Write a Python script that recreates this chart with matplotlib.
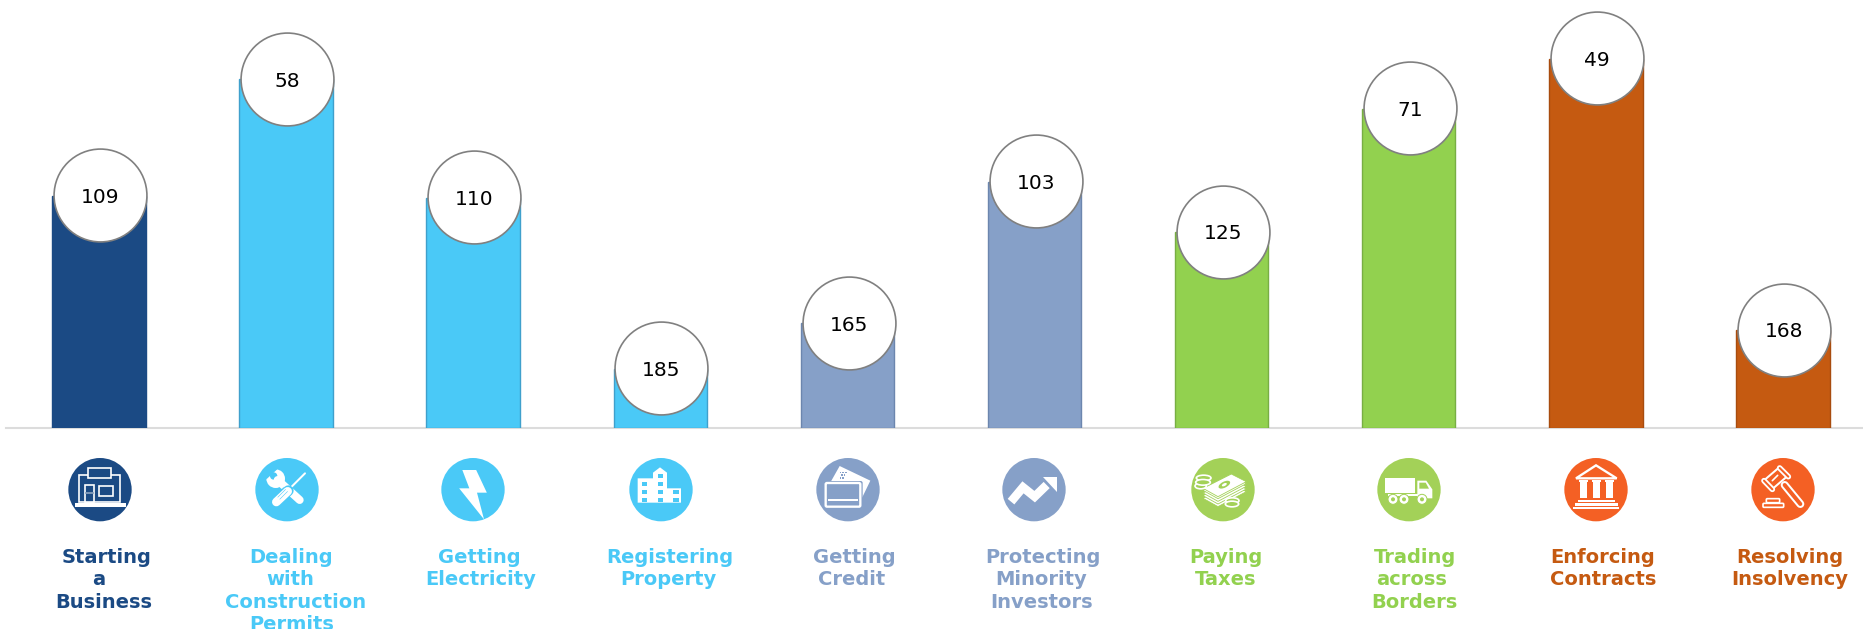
import numpy as np
import matplotlib
matplotlib.use("Agg")
import matplotlib.pyplot as plt
from matplotlib.patches import Circle, Ellipse, Polygon, Rectangle, FancyBboxPatch

W, H = 1863, 629
DARK, SKY, PERI, GREEN, BROWN = "#1B4A84", "#4AC9F7", "#86A0C8", "#92D14F", "#C55A11"
GREEN_I, ORANGE_I = "#A3D158", "#F46024"

categories = ["Starting a Business", "Dealing with Construction Permits", "Getting Electricity",
              "Registering Property", "Getting Credit", "Protecting Minority Investors",
              "Paying Taxes", "Trading across Borders", "Enforcing Contracts", "Resolving Insolvency"]
ranks = [109, 58, 110, 185, 165, 103, 125, 71, 49, 168]
label_lines = [["Starting", "a", "Business"], ["Dealing", "with", "Construction", "Permits"],
               ["Getting", "Electricity"], ["Registering", "Property"], ["Getting", "Credit"],
               ["Protecting", "Minority", "Investors"], ["Paying", "Taxes"],
               ["Trading", "across", "Borders"], ["Enforcing", "Contracts"], ["Resolving", "Insolvency"]]
label_x = [[107, 99, 103.5], [291.4, 290.4, 295.5, 292], [479.5, 481], [669.5, 668], [854, 852],
           [1043, 1041, 1042], [1226, 1226], [1415, 1412, 1414.5], [1603, 1603.5], [1789.5, 1790]]
bar_colors = [DARK, SKY, SKY, SKY, PERI, PERI, GREEN, GREEN, BROWN, BROWN]
edge_colors = ["#1B4A84", "#3FA0CC", "#3FA0CC", "#3FA0CC", "#6C86AE", "#6C86AE",
               "#78AE44", "#78AE44", "#A84C0E", "#A84C0E"]
icon_colors = [DARK, SKY, SKY, SKY, PERI, PERI, GREEN_I, GREEN_I, ORANGE_I, ORANGE_I]
icon_x = [60, 247, 433, 621, 808, 994, 1183, 1369, 1556, 1743]

plt.rcParams["font.family"] = "DejaVu Sans"
fig = plt.figure(figsize=(W / 100, H / 100), dpi=100, facecolor="white")

# main chart axes: y scale is the rank, bars grow from a base rank upward
BASE_PX = 427.7
RANK_BASE = 210.8
PX_PER_RANK = 2.28
ax = fig.add_axes([6 / W, 1 - BASE_PX / H, (W - 6) / W, BASE_PX / H])
ax.set_ylim(RANK_BASE, RANK_BASE - BASE_PX / PX_PER_RANK)
SPACING, C0 = 187.1, 99.0
ax.set_xlim((6 - C0) / SPACING, (W - C0) / SPACING)
ax.axis("off")

slots = np.arange(len(ranks), dtype=float)
ax.plot([ax.get_xlim()[0], ax.get_xlim()[1]], [RANK_BASE, RANK_BASE], color="#DCDCDC", lw=1.5,
        zorder=1, clip_on=False)
ax.bar(slots, [r - RANK_BASE for r in ranks], bottom=RANK_BASE, width=0.5,
       color=bar_colors, edgecolor=edge_colors, linewidth=1, zorder=2)
ax.scatter(slots + 0.006, np.array(ranks) - 0.2, s=4470, facecolor="white", edgecolor="#808080",
           linewidth=1.2, zorder=3, clip_on=False)
for s, r in zip(slots, ranks):
    ax.text(s + 0.006, r + 0.8, str(r), ha="center", va="center", fontsize=14.5, color="black", zorder=4)

# category labels
BASELINES = [563, 585.3, 608, 629.5]
for lines, xs, col in zip(label_lines, label_x, bar_colors):
    for line, x, y in zip(lines, xs, BASELINES):
        fig.text(x / W, 1 - y / H, line, ha="center", va="baseline", fontsize=14,
                 fontweight="bold", color=col)


# ---------- icons, each drawn in a small local frame ----------
def lw(u):
    return u * 0.24


def frame(i):
    a = fig.add_axes([icon_x[i] / W, 1 - (450 + 80) / H, 80 / W, 80 / H])
    a.set_xlim(0, 240)
    a.set_ylim(240, 0)
    a.axis("off")
    a.add_patch(Circle((120, 119), 95, color=icon_colors[i], lw=0))
    return a


def rect(a, x0, y0, x1, y1, fc="white", ec="none", u=0):
    a.add_patch(Rectangle((x0, y0), x1 - x0, y1 - y0, facecolor=fc, edgecolor=ec, linewidth=lw(u),
                          joinstyle="miter"))


def stroke(a, xs, ys, u, col="white", cap="round"):
    a.plot(xs, ys, color=col, lw=lw(u), solid_capstyle=cap, solid_joinstyle="miter")


# shop
a = frame(0)
c = icon_colors[0]
rect(a, 57, 75, 180, 155, c, "white", 5)
rect(a, 85, 55, 152, 85, c, "white", 5)
rect(a, 76, 104, 103, 155, c, "white", 5)
stroke(a, [76, 103], [128, 128], 5, "#8CA3C1", "butt")
rect(a, 116, 109, 158, 138, c, "white", 5)
rect(a, 46, 158, 197, 172)

# tools
a = frame(1)
c = icon_colors[1]
stroke(a, [92, 158], [90, 150], 24)
a.add_patch(Circle((86, 86), 28, color="white", lw=0))
a.add_patch(Polygon([(94, 55), (58, 88), (48, 60), (70, 42)], color=c, lw=0))
a.add_patch(Circle((80, 78), 11, color=c, lw=0))
stroke(a, [174, 128], [70, 116], 12, c, "butt")
stroke(a, [174, 128], [70, 116], 6)
stroke(a, [124, 86], [122, 158], 32, c)
stroke(a, [122, 88], [124, 156], 26)
for d in (-6, 0, 6):
    stroke(a, [116 + d, 92 + d], [118 + d, 142 + d], 1.6, c, "butt")

# lightning
a = frame(2)
a.add_patch(Polygon([(88, 60), (129.5, 60), (161.5, 128), (132, 128), (153, 208), (78.5, 115), (109, 115)],
                    color="white", lw=0))

# city block
a = frame(3)
c = icon_colors[3]
a.add_patch(Polygon([(50, 158), (50, 85), (96, 85), (96, 68), (117, 52), (138, 68), (138, 115), (180, 115),
                     (180, 158)], color="white", lw=0))
for xa, ys in ((62, (95, 120, 145)), (110, (72, 95, 120, 145)), (157, (120, 145))):
    for y in ys:
        rect(a, xa, y, xa + 16, y + 12, c)

# cards
a = frame(4)
c = icon_colors[4]
a.add_patch(Polygon([(95, 48), (187, 92), (158, 152), (60, 110)], color="white", lw=0))
for dx, dy in ((0, 0), (8, 0), (16, 0), (4, 8), (12, 8), (0, 16), (8, 16)):
    a.add_patch(Rectangle((95 + dx, 65 + dy), 5, 5, color=c, lw=0))
a.add_patch(FancyBboxPatch((46, 93), 118, 82, boxstyle="round,pad=0,rounding_size=6", fc=c, ec="none"))
a.add_patch(FancyBboxPatch((53, 99), 104, 71, boxstyle="round,pad=0,rounding_size=4", fc=c, ec="white",
                           linewidth=lw(7)))
stroke(a, [60, 150], [150, 150], 6, "white", "butt")

# arrow
a = frame(5)
a.plot([51, 87, 122, 158], [155, 112, 140, 105], color="white", lw=lw(26), solid_capstyle="butt",
       solid_joinstyle="miter")
a.add_patch(Polygon([(146, 82), (190, 82), (190, 125)], color="white", lw=0))

# money
a = frame(6)
c = icon_colors[6]
for off in (30, 22, 14, 6):
    a.add_patch(Polygon([(60, 115 + off), (145, 72 + off), (190, 95 + off), (105, 140 + off)],
                        fc="white", ec=c, linewidth=lw(2.5)))
a.add_patch(Polygon([(60, 115), (145, 72), (190, 95), (105, 140)], fc="white", ec=c, linewidth=lw(2.5)))
a.add_patch(Ellipse((124, 104), 38, 18, angle=-27, color=c, lw=0))
a.add_patch(Ellipse((124, 104), 16, 8, angle=-27, color="white", lw=0))
for cx, cy, w_ in ((62, 84, 44), (53, 108, 34), (60, 97, 44), (148, 152, 40), (147, 162, 40)):
    a.add_patch(Ellipse((cx, cy), w_, 17, fc=c, ec="white", linewidth=lw(5)))

# truck
a = frame(7)
c = icon_colors[7]
rect(a, 48, 84, 138, 130)
rect(a, 58, 132, 190, 138)
a.add_patch(Polygon([(145, 92), (172, 92), (190, 118), (190, 145), (145, 145)], color="white", lw=0))
a.add_patch(Polygon([(151, 98), (170, 98), (180, 116), (151, 116)], color=c, lw=0))
rect(a, 60, 140, 145, 146, c)
for cx in (72, 105, 159):
    a.add_patch(Circle((cx, 148), 15, fc="white", ec=c, linewidth=lw(3)))
    a.add_patch(Circle((cx, 148), 6, color=c, lw=0))

# bank
a = frame(8)
c = icon_colors[8]
a.add_patch(Polygon([(60, 85), (120, 46), (182, 85)], fc=c, ec="white", linewidth=lw(7), joinstyle="miter"))
rect(a, 60, 83, 182, 88)
for x0 in (70, 109, 148):
    rect(a, x0 - 2, 90, x0 + 26, 96)
    rect(a, x0 + 1, 96, x0 + 23, 145)
for x0, x1, y in ((65, 178, 150), (58, 185, 160), (52, 190, 170)):
    rect(a, x0, y, x1, y + 7)

# gavel
a = frame(9)
c = icon_colors[9]
stroke(a, [125, 172], [105, 162], 24)
stroke(a, [125, 172], [105, 162], 12, c)
stroke(a, [78, 120], [102, 66], 42, "white", "butt")
stroke(a, [78, 120], [102, 66], 30, c, "butt")
stroke(a, [63, 88], [92, 118], 17)
stroke(a, [63, 88], [92, 118], 6, c)
stroke(a, [110, 136], [54, 80], 17)
stroke(a, [110, 136], [54, 80], 6, c)
stroke(a, [88, 104], [92, 76], 5)
a.add_patch(FancyBboxPatch((70, 146), 40, 12, boxstyle="round,pad=0,rounding_size=3", fc=c, ec="white",
                           linewidth=lw(5)))
a.add_patch(FancyBboxPatch((60, 160), 62, 12, boxstyle="round,pad=0,rounding_size=3", fc=c, ec="white",
                           linewidth=lw(5)))

fig.savefig("out.png", dpi=100, facecolor="white")
